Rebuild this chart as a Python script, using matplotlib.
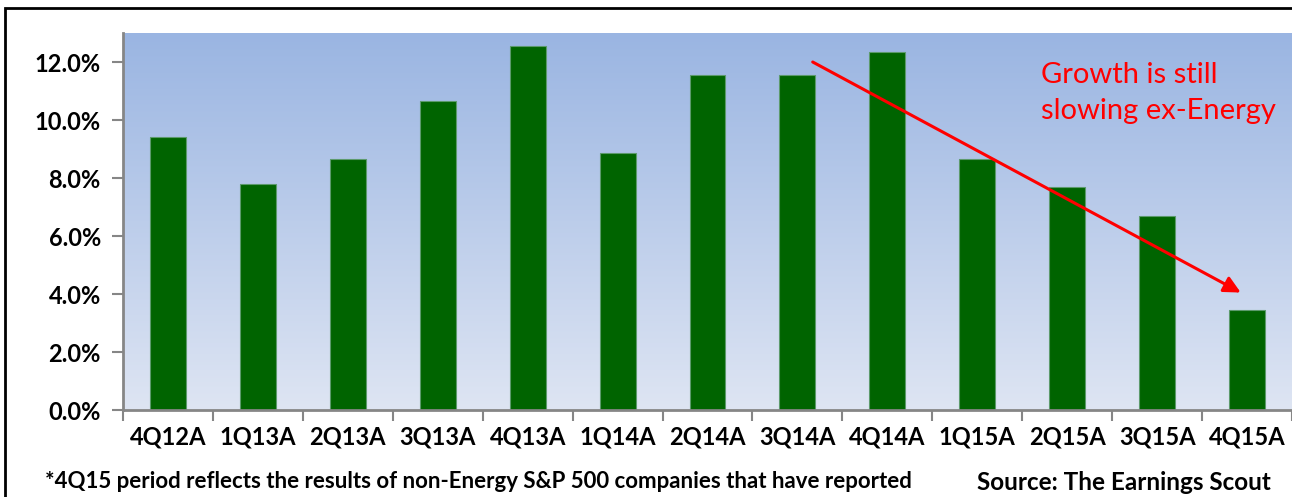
import numpy as np
import matplotlib
matplotlib.use("Agg")
import matplotlib.pyplot as plt
from matplotlib.patches import Rectangle
from matplotlib.ticker import FuncFormatter, MultipleLocator

quarters = ["4Q12A", "1Q13A", "2Q13A", "3Q13A", "4Q13A", "1Q14A", "2Q14A",
            "3Q14A", "4Q14A", "1Q15A", "2Q15A", "3Q15A", "4Q15A"]
growth = [9.4, 7.8, 8.65, 10.65, 12.55, 8.85, 11.55,
          11.55, 12.35, 8.65, 7.7, 6.7, 3.45]
arrow_start = (7.17, 12.0)
arrow_end = (11.93, 4.05)
note_text = "Growth is still\nslowing ex-Energy"
footnote = "*4Q15 period reflects the results of non-Energy S&P 500 companies that have reported"
source = "Source: The Earnings Scout"

plt.rcParams["font.family"] = ["Lato", "DejaVu Sans"]

fig = plt.figure(figsize=(12.92, 4.97), dpi=100)
ax = fig.add_axes([123 / 1292, 87 / 497, 1 - 123 / 1292, 377 / 497])

# gradient background, light blue at top fading down
grad = np.linspace(0, 1, 256).reshape(-1, 1, 1)
top = np.array([0x9a, 0xb5, 0xe2]) / 255
bot = np.array([0xde, 0xe5, 0xf3]) / 255
img = top * (1 - grad) + bot * grad
ax.imshow(img, extent=[-0.5, len(quarters) - 0.5, 0, 13], aspect="auto",
          zorder=0, origin="upper")

x = np.arange(len(quarters))
ax.bar(x, growth, width=0.4, color="#006400", edgecolor="#5c9a6c",
       linewidth=0.8, zorder=2)

ax.set_xlim(-0.5, len(quarters) - 0.5)
ax.set_ylim(0, 13)
ax.yaxis.set_major_locator(MultipleLocator(2))
ax.yaxis.set_major_formatter(FuncFormatter(lambda v, p: f"{v:.1f}%"))

ax.set_xticks(x)
ax.set_xticklabels(quarters, fontsize=17, fontweight="bold")
ax.set_xticks(np.arange(-0.5, len(quarters)), minor=True)
ax.tick_params(axis="x", which="major", length=0, pad=11)
ax.tick_params(axis="x", which="minor", length=8, width=1.5, color="#868686")
ax.tick_params(axis="y", length=8, width=1.5, color="#868686", pad=8,
               labelsize=17)
for lbl in ax.get_yticklabels():
    lbl.set_fontweight("bold")

for side in ["top", "right"]:
    ax.spines[side].set_visible(False)
for side in ["left", "bottom"]:
    ax.spines[side].set_color("#868686")
    ax.spines[side].set_linewidth(2)

ax.annotate("", xy=arrow_end, xytext=arrow_start,
            arrowprops=dict(arrowstyle="-|>,head_length=1.0,head_width=0.5",
                            color="red", lw=2.2, shrinkA=0, shrinkB=0),
            zorder=5)
fig.text(1041 / 1292, 1 - 62 / 497, note_text, color="red", fontsize=21,
         va="top", ha="left", linespacing=1.5)

fig.text(45 / 1292, 1 - 482 / 497, footnote, fontsize=16,
         fontweight="bold", va="center", ha="left")
fig.text(1271 / 1292, 1 - 482 / 497, source, fontsize=17.5,
         fontweight="bold", va="center", ha="right")

# outer frame, only top and left edges fall inside the image
fig.patches.append(Rectangle((5 / 1292, -0.1), 1.2, 1 - 8 / 497 + 0.1,
                             transform=fig.transFigure, fill=False,
                             edgecolor="black", linewidth=2))

fig.savefig("out.png", dpi=100)
